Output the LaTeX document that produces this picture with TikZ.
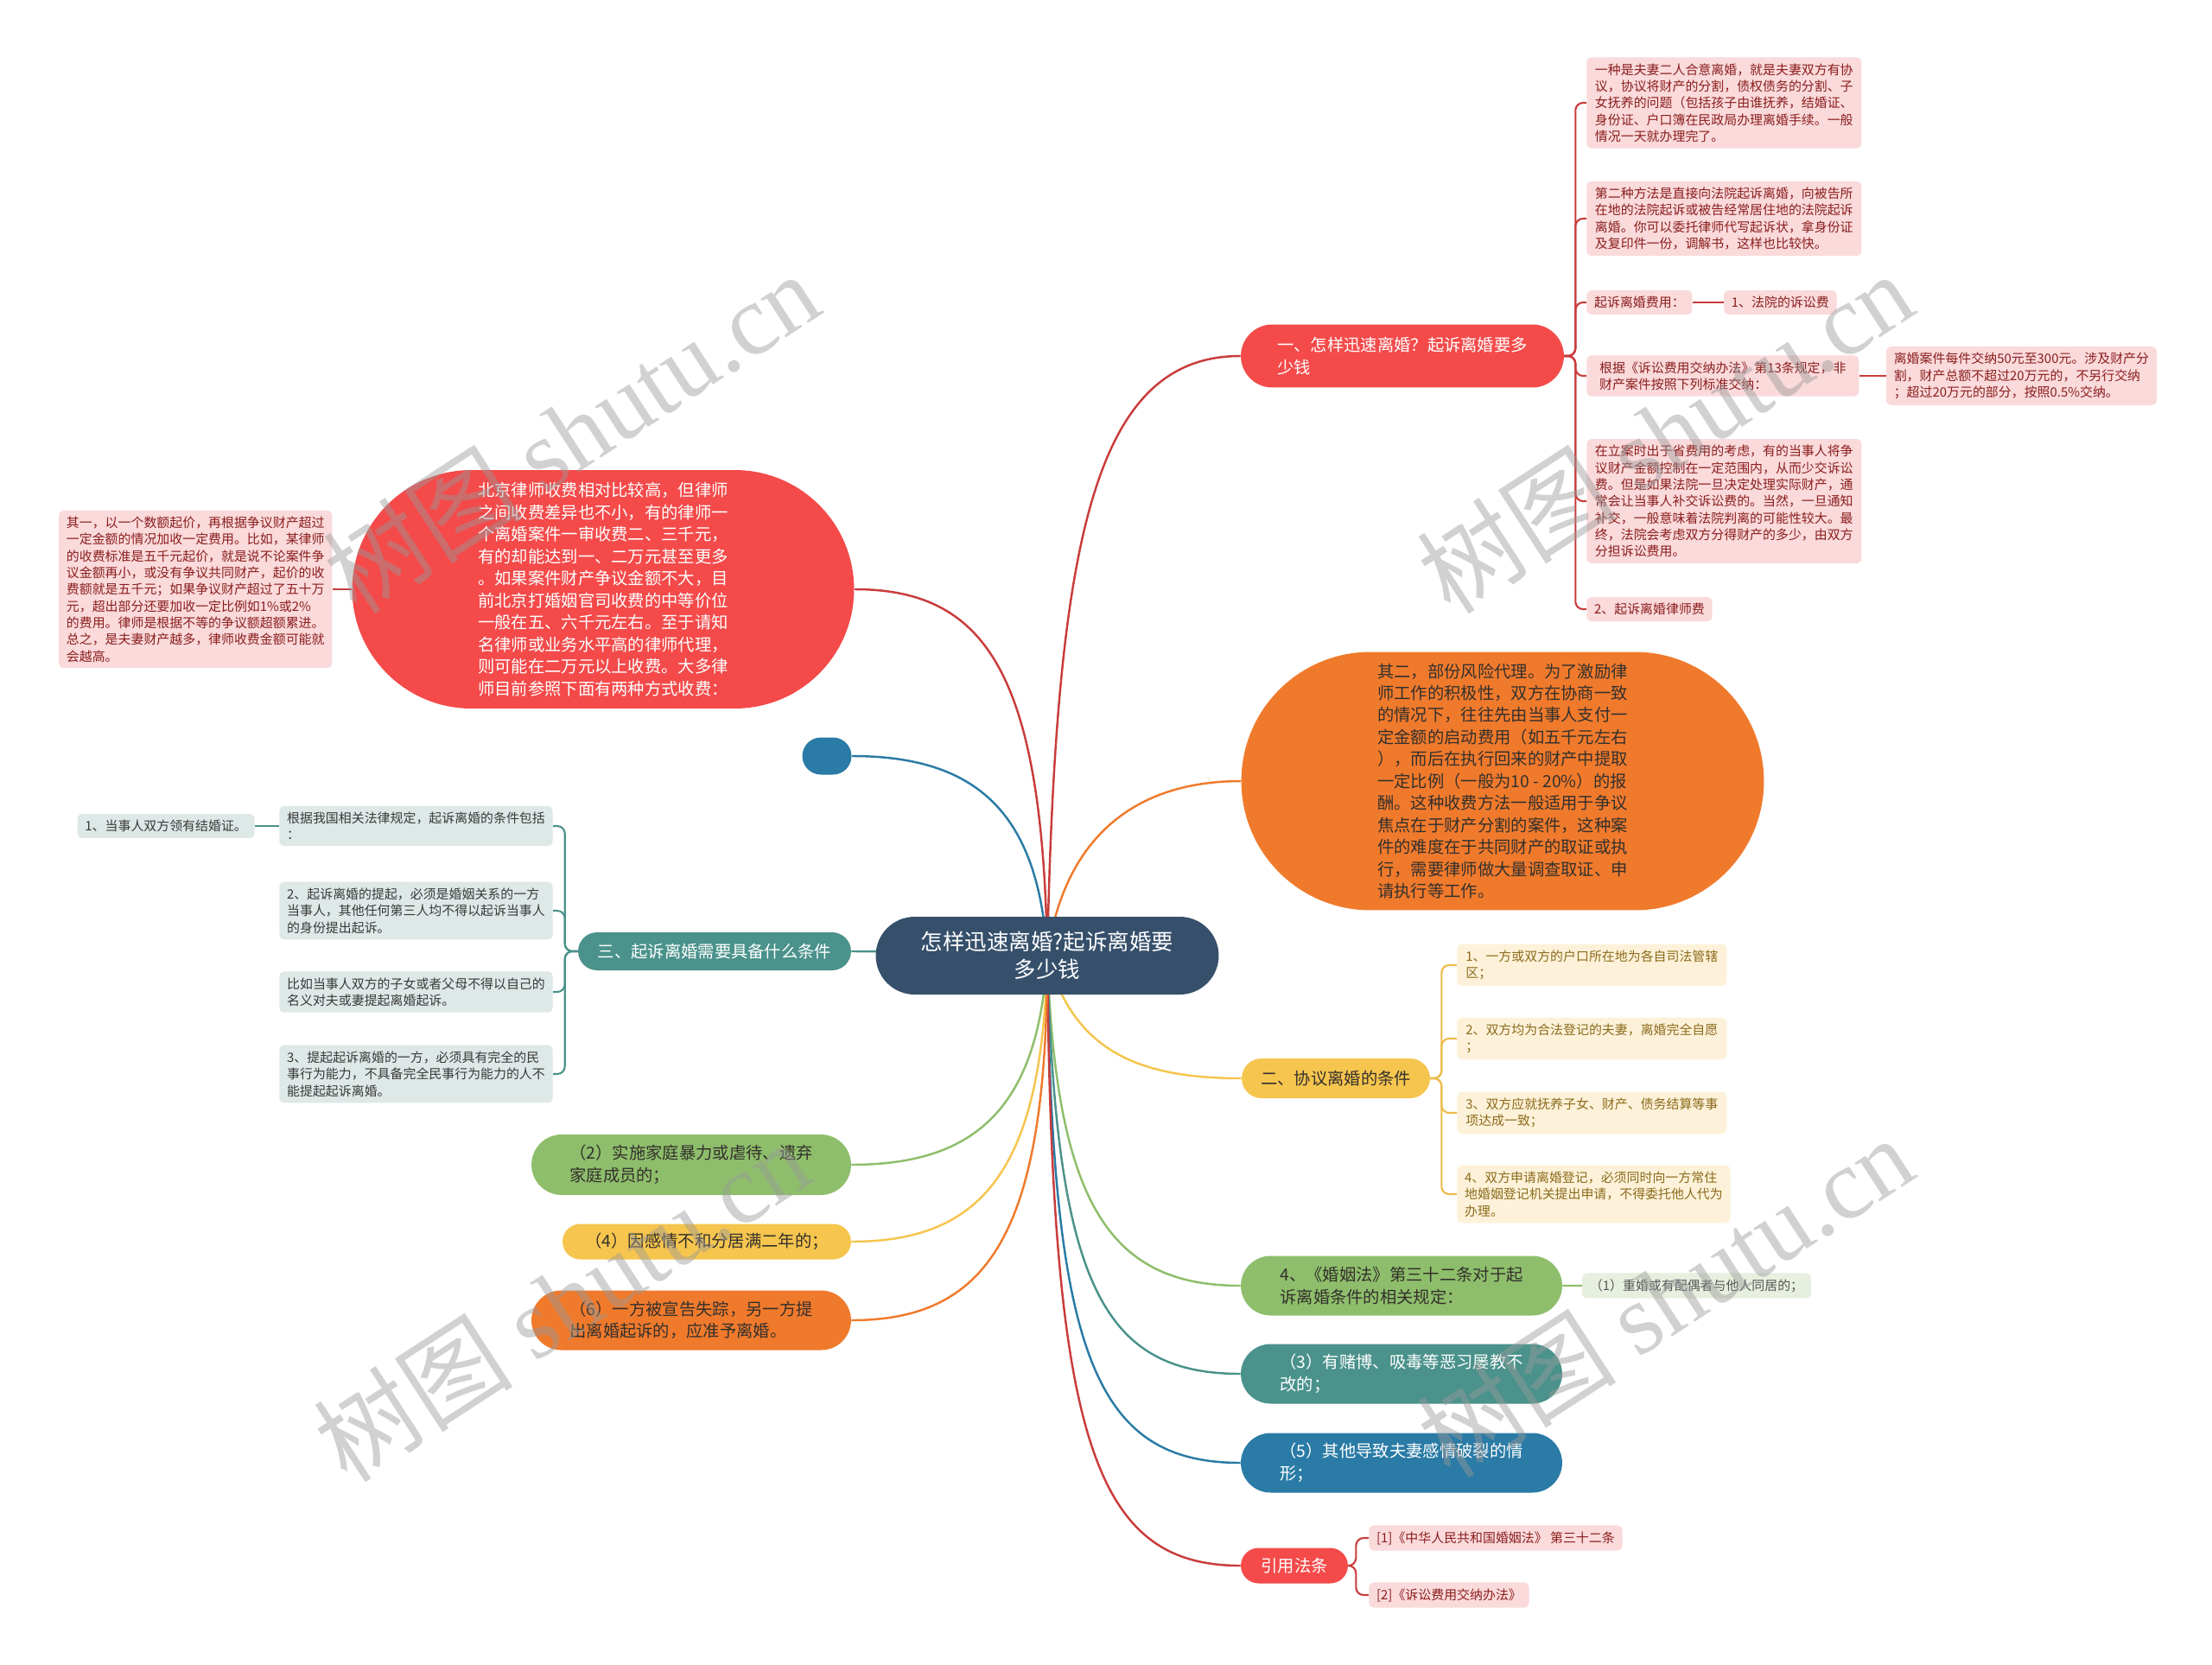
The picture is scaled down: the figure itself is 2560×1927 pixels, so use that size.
\documentclass[tikz,border=0pt]{standalone}
\usepackage{fontspec}
\setmainfont{Noto Sans CJK SC}
\newfontfamily\markfont{Liberation Serif}
\usetikzlibrary{shapes.misc,positioning,backgrounds}
\definecolor{centerblue}{HTML}{36506B}
\definecolor{branchred}{HTML}{F44A4A}
\definecolor{branchorange}{HTML}{F07A2C}
\definecolor{branchyellow}{HTML}{F6C54E}
\definecolor{branchgreen}{HTML}{8EBE6B}
\definecolor{branchteal}{HTML}{4A928B}
\definecolor{branchblue}{HTML}{2A7BA5}
\definecolor{textdark}{HTML}{33302C}
\definecolor{leafred}{HTML}{FADADB}
\definecolor{textred}{HTML}{8B1E1E}
\definecolor{linkred}{HTML}{C93C3C}
\definecolor{leafyellow}{HTML}{FDF2D9}
\definecolor{textyellow}{HTML}{8C6A1C}
\definecolor{linkyellow}{HTML}{EDBB4A}
\definecolor{leafteal}{HTML}{DDE8E7}
\definecolor{textteal}{HTML}{3A3A3A}
\definecolor{leafgreen}{HTML}{E7F0DF}
\definecolor{textgreen}{HTML}{555555}

\begin{document}
\begin{tikzpicture}[
    x=0.02cm, y=-0.02cm,
    every node/.style={align=left, inner sep=0pt},
    rootnode/.style={rounded rectangle, fill=centerblue, text=white, align=center, minimum width=7.94cm, minimum height=1.8cm, font=\fontsize{14.5}{18}\selectfont},
    branch/.style={rounded rectangle, inner xsep=4pt, inner ysep=3pt, font=\fontsize{11}{14.5}\selectfont},
    leaf/.style={rectangle, rounded corners=3pt, inner xsep=5pt, inner ysep=4pt, font=\fontsize{8.5}{11}\selectfont},
    redleaf/.style={leaf, fill=leafred, text=textred},
    yellowleaf/.style={leaf, fill=leafyellow, text=textyellow, minimum width=6.24cm},
    tealleaf/.style={leaf, fill=leafteal, text=textteal},
    greenleaf/.style={leaf, fill=leafgreen, text=textgreen},
    link/.style={line width=1.4pt},
    bracket/.style={line width=1.2pt, rounded corners=5pt},
    watermark/.style={rotate=33, text=black!40, opacity=0.45, font=\fontsize{66}{66}\selectfont}
]
\useasboundingbox (0,0) rectangle (2560,1927);

% Root
\node[rootnode] (root) at (1212,1106) {怎样迅速离婚?起诉离婚要\\多少钱};

% Right branches
\node[branch, fill=branchred, text=white, minimum width=7.76cm, minimum height=1.46cm] (way) at (1623,412) {一、怎样迅速离婚？起诉离婚要多\\少钱};
\node[branch, fill=branchorange, text=textdark, minimum width=12.38cm, minimum height=5.98cm] (risk) at (1739,904) {其二，部份风险代理。为了激励律\\师工作的积极性，双方在协商一致\\的情况下，往往先由当事人支付一\\定金额的启动费用（如五千元左右\\），而后在执行回来的财产中提取\\一定比例（一般为10 - 20\%）的报\\酬。这种收费方法一般适用于争议\\焦点在于财产分割的案件，这种案\\件的难度在于共同财产的取证或执\\行，需要律师做大量调查取证、申\\请执行等工作。};
\node[branch, fill=branchyellow, text=textdark, minimum width=4.64cm, minimum height=0.92cm] (agree) at (1546,1248) {二、协议离婚的条件};
\node[branch, fill=branchgreen, text=textdark, minimum width=7.72cm, minimum height=1.38cm] (law) at (1622,1488) {4、《婚姻法》第三十二条对于起\\诉离婚条件的相关规定：};
\node[branch, fill=branchteal, text=white, minimum width=7.72cm, minimum height=1.38cm] (gamble) at (1622,1590) {（3）有赌博、吸毒等恶习屡教不\\改的；};
\node[branch, fill=branchblue, text=white, minimum width=7.72cm, minimum height=1.38cm] (other) at (1622,1693) {（5）其他导致夫妻感情破裂的情\\形；};
\node[branch, fill=branchred, text=white, minimum width=2.76cm, minimum height=0.82cm] (cite) at (1498,1812) {引用法条};

% Left branches
\node[branch, fill=branchred, text=white, minimum width=11.9cm, minimum height=5.52cm] (fee) at (698,682) {北京律师收费相对比较高，但律师\\之间收费差异也不小，有的律师一\\个离婚案件一审收费二、三千元，\\有的却能达到一、二万元甚至更多\\。如果案件财产争议金额不大，目\\前北京打婚姻官司收费的中等价位\\一般在五、六千元左右。至于请知\\名律师或业务水平高的律师代理，\\则可能在二万元以上收费。大多律\\师目前参照下面有两种方式收费：};
\node[branch, fill=branchblue, minimum width=1.42cm, minimum height=0.86cm] (blank) at (957,875) {};
\node[branch, fill=branchteal, text=white, minimum width=6.6cm, minimum height=0.88cm] (cond) at (827,1101) {三、起诉离婚需要具备什么条件};
\node[branch, fill=branchgreen, text=textdark, minimum width=7.68cm, minimum height=1.4cm] (abuse) at (800,1348) {（2）实施家庭暴力或虐待、遗弃\\家庭成员的；};
\node[branch, fill=branchyellow, text=textdark, minimum width=6.96cm, minimum height=0.82cm] (apart) at (818,1437) {（4）因感情不和分居满二年的；};
\node[branch, fill=branchorange, text=textdark, minimum width=7.68cm, minimum height=1.38cm] (missing) at (800,1528) {（6）一方被宣告失踪，另一方提\\出离婚起诉的，应准予离婚。};

% Leaves of the first branch
\node[redleaf, anchor=west, minimum width=6.36cm] (wayA) at (1836,119) {一种是夫妻二人合意离婚，就是夫妻双方有协\\议，协议将财产的分割，债权债务的分割、子\\女抚养的问题（包括孩子由谁抚养，结婚证、\\身份证、户口簿在民政局办理离婚手续。一般\\情况一天就办理完了。};
\node[redleaf, anchor=west, minimum width=6.36cm] (wayB) at (1836,253) {第二种方法是直接向法院起诉离婚，向被告所\\在地的法院起诉或被告经常居住地的法院起诉\\离婚。你可以委托律师代写起诉状，拿身份证\\及复印件一份，调解书，这样也比较快。};
\node[redleaf, anchor=west] (wayC) at (1836,350) {起诉离婚费用：};
\node[redleaf, right=0.72cm of wayC] (wayC1) {1、法院的诉讼费};
\node[redleaf, anchor=west, minimum width=6.3cm] (wayD) at (1836,435) {根据《诉讼费用交纳办法》第13条规定，非\\财产案件按照下列标准交纳：};
\node[redleaf, right=0.62cm of wayD] (wayD1) {离婚案件每件交纳50元至300元。涉及财产分\\割，财产总额不超过20万元的，不另行交纳\\；超过20万元的部分，按照0.5\%交纳。};
\node[redleaf, anchor=west, minimum width=6.36cm] (wayE) at (1836,580) {在立案时出于省费用的考虑，有的当事人将争\\议财产金额控制在一定范围内，从而少交诉讼\\费。但是如果法院一旦决定处理实际财产，通\\常会让当事人补交诉讼费的。当然，一旦通知\\补交，一般意味着法院判离的可能性较大。最\\终，法院会考虑双方分得财产的多少，由双方\\分担诉讼费用。};
\node[redleaf, anchor=west] (wayF) at (1836,705) {2、起诉离婚律师费};

% Leaves of the agreement branch
\node[yellowleaf, anchor=west] (agreeA) at (1686,1117) {1、一方或双方的户口所在地为各自司法管辖\\区；};
\node[yellowleaf, anchor=west] (agreeB) at (1686,1202) {2、双方均为合法登记的夫妻，离婚完全自愿\\；};
\node[yellowleaf, anchor=west] (agreeC) at (1686,1288) {3、双方应就抚养子女、财产、债务结算等事\\项达成一致；};
\node[yellowleaf, anchor=west] (agreeD) at (1686,1382) {4、双方申请离婚登记，必须同时向一方常住\\地婚姻登记机关提出申请，不得委托他人代为\\办理。};

% Other leaves
\node[greenleaf, right=0.45cm of law] (lawA) {（1）重婚或有配偶者与他人同居的；};
\node[redleaf, anchor=west] (citeA) at (1584,1780) {[1]《中华人民共和国婚姻法》 第三十二条};
\node[redleaf, anchor=west] (citeB) at (1584,1846) {[2]《诉讼费用交纳办法》};
\node[redleaf, left=0.45cm of fee] (feeA) {其一，以一个数额起价，再根据争议财产超过\\一定金额的情况加收一定费用。比如，某律师\\的收费标准是五千元起价，就是说不论案件争\\议金额再小，或没有争议共同财产，起价的收\\费额就是五千元；如果争议财产超过了五十万\\元，超出部分还要加收一定比例如1\%或2\%\\的费用。律师是根据不等的争议额超额累进。\\总之，是夫妻财产越多，律师收费金额可能就\\会越高。};

% Leaves of the conditions branch
\node[tealleaf, anchor=east, minimum width=6.26cm] (condA) at (640,956) {根据我国相关法律规定，起诉离婚的条件包括\\：};
\node[tealleaf, left=0.56cm of condA] (condA1) {1、当事人双方领有结婚证。};
\node[tealleaf, anchor=east, minimum width=6.26cm] (condB) at (640,1054) {2、起诉离婚的提起，必须是婚姻关系的一方\\当事人，其他任何第三人均不得以起诉当事人\\的身份提出起诉。};
\node[tealleaf, anchor=east, minimum width=6.26cm] (condC) at (640,1148) {比如当事人双方的子女或者父母不得以自己的\\名义对夫或妻提起离婚起诉。};
\node[tealleaf, anchor=east, minimum width=6.26cm] (condD) at (640,1243) {3、提起起诉离婚的一方，必须具有完全的民\\事行为能力，不具备完全民事行为能力的人不\\能提起起诉离婚。};

\begin{scope}[on background layer]
\fill[white] (0,0) rectangle (2560,1927);
% Root to branches
\draw[link, linkred] (root.center) .. controls +(10,-480) and +(-170,0) .. (way.west);
\draw[link, branchorange] (root.center) .. controls +(20,-140) and +(-120,0) .. (risk.west);
\draw[link, branchyellow] (root.center) .. controls +(30,110) and +(-120,0) .. (agree.west);
\draw[link, branchgreen] (root.center) .. controls +(10,290) and +(-150,0) .. (law.west);
\draw[link, branchteal] (root.center) .. controls +(10,380) and +(-160,0) .. (gamble.west);
\draw[link, branchblue] (root.center) .. controls +(5,460) and +(-170,0) .. (other.west);
\draw[link, linkred] (root.center) .. controls +(5,560) and +(-170,0) .. (cite.west);
\draw[link, linkred] (root.center) .. controls +(-5,-330) and +(150,0) .. (fee.east);
\draw[link, branchblue] (root.center) .. controls +(-10,-170) and +(140,0) .. (blank.east);
\draw[link, branchteal] (root.center) .. controls +(-100,0) and +(100,0) .. (cond.east);
\draw[link, branchgreen] (root.center) .. controls +(-10,180) and +(140,0) .. (abuse.east);
\draw[link, branchyellow] (root.center) .. controls +(-5,250) and +(150,0) .. (apart.east);
\draw[link, branchorange] (root.center) .. controls +(0,320) and +(160,0) .. (missing.east);
% Branches to leaves
\foreach \leaf in {wayA,wayB,wayC,wayD,wayE,wayF}
  \draw[bracket, linkred] (way.east) -- ++(13,0) |- (\leaf.west);
\draw[bracket, linkred] (wayC) -- (wayC1);
\draw[bracket, linkred] (wayD) -- (wayD1);
\foreach \leaf in {agreeA,agreeB,agreeC,agreeD}
  \draw[bracket, linkyellow] (agree.east) -- ++(13,0) |- (\leaf.west);
\draw[bracket, branchgreen] (law) -- (lawA);
\foreach \leaf in {citeA,citeB}
  \draw[bracket, linkred] (cite.east) -- ++(9,0) |- (\leaf.west);
\draw[bracket, linkred] (fee) -- (feeA);
\foreach \leaf in {condA,condB,condC,condD}
  \draw[bracket, branchteal] (cond.west) -- ++(-15,0) |- (\leaf.east);
\draw[bracket, branchteal] (condA) -- (condA1);
\end{scope}

% Watermarks
\foreach \wx/\wy in {661/500, 1927/500, 650/1505, 1927/1500}
  \node[watermark] at (\wx,\wy) {树图 {\markfont shutu.cn}};
\end{tikzpicture}
\end{document}
